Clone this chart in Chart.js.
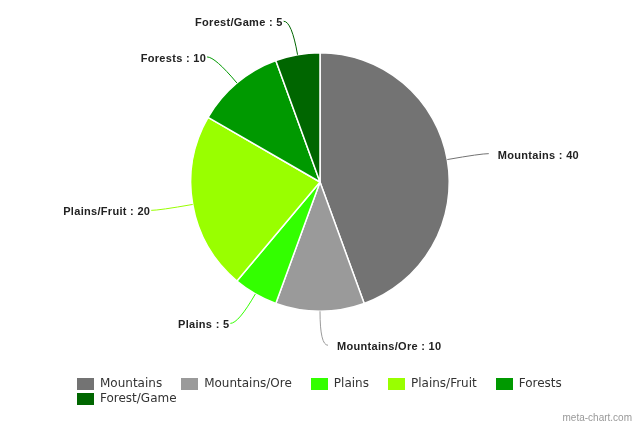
<!DOCTYPE html>
<html>
<head>
<meta charset="utf-8">
<script src="https://cdn.jsdelivr.net/npm/chart.js@4.4.0/dist/chart.umd.min.js"></script>
<style>
  html, body { margin: 0; padding: 0; background: #fff; }
  #wrap { position: relative; width: 640px; height: 427px; }
  #legend {
    position: absolute; left: 77px; top: 376px; width: 505px;
    display: flex; flex-wrap: wrap;
    font-family: "DejaVu Sans", sans-serif; font-size: 12px; color: #333;
    line-height: 15px;
  }
  .item { display: flex; align-items: center; margin-right: 19px; }
  .box { width: 17px; height: 12px; margin-right: 6px; }
</style>
</head>
<body>
<div id="wrap">
  <canvas id="pie" width="640" height="427"></canvas>
  <div id="legend"></div>
</div>
<script>
const categories = ["Mountains", "Mountains/Ore", "Plains", "Plains/Fruit", "Forests", "Forest/Game"];
const values = [40, 10, 5, 20, 10, 5];
const colors = ["#737373", "#9a9a9a", "#33ff00", "#99ff00", "#009900", "#006600"];

// outer labels with curved leader lines
const outerLabels = {
  id: "outerLabels",
  afterDraw(chart) {
    const ctx = chart.ctx;
    const meta = chart.getDatasetMeta(0);
    ctx.save();
    ctx.font = "bold 11px 'Liberation Sans', Arial, sans-serif";
    ctx.letterSpacing = "0.3px";
    ctx.textBaseline = "middle";
    meta.data.forEach((arc, i) => {
      const p = arc.getProps(["x", "y", "startAngle", "endAngle", "outerRadius"], true);
      const mid = (p.startAngle + p.endAngle) / 2;
      const c = Math.cos(mid), s = Math.sin(mid);
      const R = p.outerRadius;
      const x0 = p.x + c * R, y0 = p.y + s * R;
      const mx = p.x + c * (R + 34), my = p.y + s * (R + 34);
      const side = c < -0.01 ? -1 : 1;
      const ex = mx + side * 8, ey = my;
      ctx.strokeStyle = colors[i];
      ctx.lineWidth = 1;
      ctx.beginPath();
      ctx.moveTo(x0, y0);
      ctx.quadraticCurveTo(mx, my, ex, ey);
      ctx.stroke();
      ctx.fillStyle = "#222";
      ctx.textAlign = side > 0 ? "left" : "right";
      ctx.fillText(categories[i] + " : " + values[i], ex + (side > 0 ? 9 : -1), ey + 2);
    });
    ctx.letterSpacing = "0px";
    ctx.font = "10px 'Liberation Sans', Arial, sans-serif";
    ctx.fillStyle = "#999";
    ctx.textAlign = "right";
    ctx.fillText("meta-chart.com", 632, 418);
    ctx.restore();
  }
};

new Chart(document.getElementById("pie"), {
  type: "pie",
  data: {
    labels: categories,
    datasets: [{
      data: values,
      backgroundColor: colors,
      borderColor: "#ffffff",
      borderWidth: 1.5
    }]
  },
  options: {
    responsive: false,
    animation: false,
    layout: { padding: { top: 52, bottom: 115, left: 190, right: 190 } },
    plugins: {
      legend: { display: false },
      tooltip: { enabled: false }
    }
  },
  plugins: [outerLabels]
});

const legend = document.getElementById("legend");
categories.forEach((name, i) => {
  const item = document.createElement("div");
  item.className = "item";
  item.innerHTML = `<span class="box" style="background:${colors[i]}"></span><span>${name}</span>`;
  legend.appendChild(item);
});
</script>
</body>
</html>
